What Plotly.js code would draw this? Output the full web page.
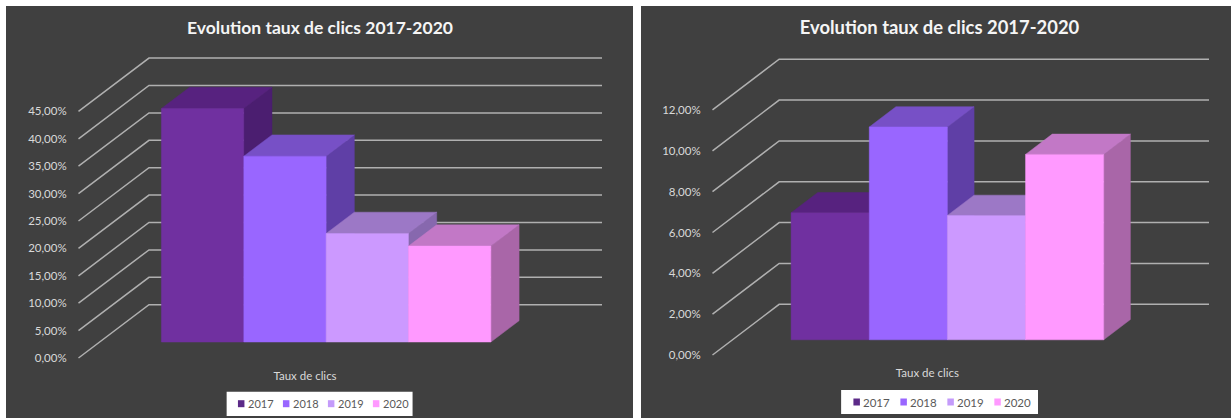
<!DOCTYPE html>
<html>
<head>
<meta charset="utf-8">
<script src="https://cdn.plot.ly/plotly-3.0.1.min.js"></script>
<style>
  html, body { margin: 0; padding: 0; background: #ffffff; width: 1231px; height: 418px; overflow: hidden; }
  .panel { position: absolute; top: 6px; height: 412px; background: #404040; }
  #left { left: 6px; width: 627px; }
  #right { left: 641px; width: 590px; }
</style>
</head>
<body>
<div id="left" class="panel"></div>
<div id="right" class="panel"></div>
<script>
// Click-through rates per year, in percent
const years = ['2017', '2018', '2019', '2020'];
const leftRates = [42.6, 33.9, 19.8, 17.5];
const rightRates = [6.22, 10.42, 6.09, 9.08];
const leftTicks = [0, 5, 10, 15, 20, 25, 30, 35, 40, 45];
const rightTicks = [0, 2, 4, 6, 8, 10, 12];
const chartTitle = 'Evolution taux de clics 2017-2020';
const categoryLabel = 'Taux de clics';

const frontColors = ['#7030A0', '#9966FF', '#CC99FF', '#FF99FF'];
const topColors = ['#57227F', '#7750C6', '#9C78C6', '#C278C6'];
const sideColors = ['#4B1E70', '#5F3FA6', '#8768AE', '#A966A8'];
const swatchColors = ['#5C2A88', '#9966FF', '#C49BFA', '#FF99FF'];

const GAP = 0.75;        // floor margin on each side of the bar group, in bar widths
const BAR_FRONT = 0.3;   // depth at which the bars start (0 = front of floor, 1 = back wall)
const BAR_DEPTH = 0.4;   // depth of each bar

const percentLabel = v => v.toFixed(2).replace('.', ',') + '%';

// Oblique 3D-look chart: depth shifts a point right and up in axis units
function drawPanel(id, rates, ticks, g) {
  const slot = g.slotPx;
  const unitPx = g.unitPx;
  const depthX = g.depthPxX / slot;
  const depthY = g.depthPxY / unitPx;
  const px = (u, d) => u + d * depthX;
  const py = (v, d) => v + d * depthY;

  // Plot area in page pixels; axis ranges follow from it
  const plot = { l: g.x0 - 0.5, r: g.x0 + (2 * GAP + 4) * slot + g.depthPxX + 2, t: g.y0 - 320, b: g.y0 + 5 };
  const xRange = [-GAP + (plot.l - g.x0) / slot, -GAP + (plot.r - g.x0) / slot];
  const yRange = [(g.y0 - plot.b) / unitPx, (g.y0 - plot.t) / unitPx];

  const traces = [];

  // Side and back-wall grid: front edge, diagonal to the back wall, then across
  ticks.forEach(v => {
    traces.push({
      type: 'scatter', mode: 'lines', showlegend: false, hoverinfo: 'skip',
      x: [-GAP, px(-GAP, 1), px(4 + GAP, 1)],
      y: [v, py(v, 1), py(v, 1)],
      line: { color: '#B0B0B0', width: 1.5 }
    });
  });

  // Bars painted left to right so each one hides its neighbour's side face
  rates.forEach((value, i) => {
    const d0 = BAR_FRONT, d1 = BAR_FRONT + BAR_DEPTH;
    const face = (xs, ys, color, part) => ({
      type: 'scatter', mode: 'lines', fill: 'toself', fillcolor: color,
      line: { color: color, width: 0.5 },
      showlegend: false, name: years[i], x: xs, y: ys,
      hoverinfo: part === 'front' ? 'name+text' : 'skip',
      text: part === 'front' ? percentLabel(value) : undefined
    });
    traces.push(face(
      [px(i + 1, d0), px(i + 1, d1), px(i + 1, d1), px(i + 1, d0), px(i + 1, d0)],
      [py(0, d0), py(0, d1), py(value, d1), py(value, d0), py(0, d0)],
      sideColors[i], 'side'));
    traces.push(face(
      [px(i, d0), px(i + 1, d0), px(i + 1, d1), px(i, d1), px(i, d0)],
      [py(value, d0), py(value, d0), py(value, d1), py(value, d1), py(value, d0)],
      topColors[i], 'top'));
    traces.push(face(
      [px(i, d0), px(i + 1, d0), px(i + 1, d0), px(i, d0), px(i, d0)],
      [py(0, d0), py(0, d0), py(value, d0), py(value, d0), py(0, d0)],
      frontColors[i], 'front'));
  });

  // Conversions from page pixels to paper coordinates of this plot area
  const w = plot.r - plot.l, h = plot.b - plot.t;
  const paperX = p => (p - plot.l) / w;
  const paperY = p => (plot.b - p) / h;

  const shapes = [{
    type: 'rect', xref: 'paper', yref: 'paper', line: { width: 0 }, fillcolor: '#FFFFFF',
    x0: paperX(g.legend.l), x1: paperX(g.legend.r), y0: paperY(g.legend.b), y1: paperY(g.legend.t)
  }];
  const annotations = [];
  years.forEach((year, i) => {
    const sx = g.legend.first + i * g.legend.step;
    shapes.push({
      type: 'rect', xref: 'paper', yref: 'paper', line: { width: 0 }, fillcolor: swatchColors[i],
      x0: paperX(sx), x1: paperX(sx + 6.5),
      y0: paperY(g.legend.cy + 3.5), y1: paperY(g.legend.cy - 3.5)
    });
    annotations.push({
      xref: 'paper', yref: 'paper', x: paperX(sx + 8), y: paperY(g.legend.cy),
      xanchor: 'left', yanchor: 'middle', showarrow: false, text: year,
      font: { family: 'Lato', size: g.legend.font, color: '#595959' }
    });
  });

  const panelLeft = g.panelLeft, panelWidth = g.panelWidth;
  const layout = {
    width: panelWidth, height: 412,
    paper_bgcolor: 'rgba(0,0,0,0)', plot_bgcolor: 'rgba(0,0,0,0)',
    showlegend: false,
    margin: { l: plot.l - panelLeft, r: panelLeft + panelWidth - plot.r, t: plot.t - 6, b: 418 - plot.b, pad: 0 },
    title: {
      text: '<b>' + chartTitle + '</b>',
      xref: 'container', x: (g.titleX - panelLeft) / panelWidth, xanchor: 'center',
      yref: 'container', y: 1 - 22 / 412, yanchor: 'middle',
      font: { family: 'Lato', size: g.titleSize, color: '#F5F5F5' }
    },
    xaxis: {
      range: xRange, showgrid: false, zeroline: false, showline: false,
      tickmode: 'array', tickvals: [2], ticktext: [categoryLabel],
      ticks: 'outside', ticklen: 2, tickcolor: 'rgba(0,0,0,0)',
      tickfont: { family: 'Lato', size: 11.5, color: '#D9D9D9' }
    },
    yaxis: {
      range: yRange, showgrid: false, zeroline: false, showline: false,
      tickmode: 'array', tickvals: ticks, ticktext: ticks.map(percentLabel),
      ticks: 'outside', ticklen: 8, tickcolor: 'rgba(0,0,0,0)',
      tickfont: { family: 'Lato', size: 11.5, color: '#D9D9D9' }
    },
    shapes: shapes,
    annotations: annotations
  };
  Plotly.newPlot(id, traces, layout, { displayModeBar: false, staticPlot: true });
}

drawPanel('left', leftRates, leftTicks, {
  panelLeft: 6, panelWidth: 627, titleX: 320, titleSize: 17.5,
  x0: 78.5, y0: 358, slotPx: 82.4, unitPx: 5.48, depthPxX: 70.5, depthPxY: 53.3,
  legend: { l: 226.7, r: 412.7, t: 391.7, b: 416, first: 238, step: 45, cy: 403.7, font: 11 }
});
drawPanel('right', rightRates, rightTicks, {
  panelLeft: 641, panelWidth: 590, titleX: 939.5, titleSize: 18.4,
  x0: 712.3, y0: 355, slotPx: 78.2, unitPx: 20.42, depthPxX: 66.7, depthPxY: 50.7,
  legend: { l: 841, r: 1038, t: 390, b: 414, first: 853.3, step: 47, cy: 402, font: 11.5 }
});
</script>
</body>
</html>
